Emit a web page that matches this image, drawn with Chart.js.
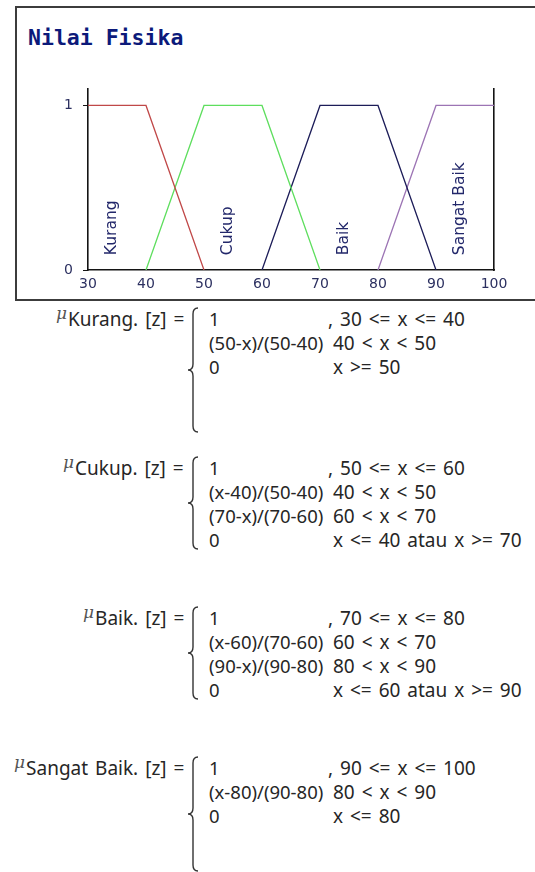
<!DOCTYPE html>
<html>
<head>
<meta charset="utf-8">
<script src="https://cdn.jsdelivr.net/npm/chart.js@4.4.1/dist/chart.umd.min.js"></script>
<style>
  html, body { margin: 0; padding: 0; background: #fff; }
  body { width: 535px; height: 872px; position: relative; overflow: hidden; }
  #box { position: absolute; left: 15px; top: 6px; width: 540px; height: 291px; border: 2px solid #3c3c3c; }
  #title { position: absolute; left: 28px; top: 27px; font: bold 21.5px "DejaVu Sans Mono", monospace; line-height: 21px; color: #0c1a7a; white-space: nowrap; }
  #fisika { position: absolute; left: 0; top: 0; }
  .txt { position: absolute; font-family: "Noto Sans", sans-serif; font-size: 19px; line-height: 24px; color: #262626; white-space: nowrap; }
  .expr { font-size: 18.5px; }
  .cond { word-spacing: 2px; }
  .lbl { word-spacing: 2px; }
  .mu { font-family: "DejaVu Serif", serif; font-style: italic; font-size: 17px; color: #555; position: relative; top: -7px; margin-right: 1px; }
  svg.brace { position: absolute; overflow: visible; }
</style>
</head>
<body>
<div id="box"></div>
<div id="title">Nilai Fisika</div>
<canvas id="fisika" width="535" height="300"></canvas>

<script>
// membership sets for "Nilai Fisika"
const setNames = ['Kurang', 'Cukup', 'Baik', 'Sangat Baik'];
const kurangX = [30, 40, 50];
const kurangY = [1, 1, 0];
const cukupX = [40, 50, 60, 70];
const cukupY = [0, 1, 1, 0];
const baikX = [60, 70, 80, 90];
const baikY = [0, 1, 1, 0];
const sangatX = [80, 90, 100];
const sangatY = [0, 1, 1];
const xTicks = [30, 40, 50, 60, 70, 80, 90, 100];
const yTicks = [0, 1];

const setX = [kurangX, cukupX, baikX, sangatX];
const setY = [kurangY, cukupY, baikY, sangatY];
const lineColors = ['#c04848', '#5ede5e', '#1c1c58', '#9c74b4'];
const axisColor = '#141414';
const tickColor = '#2c3060';

// vertical set names, drawn a little right of where each plateau starts
const setLabels = {
    id: 'setLabels',
    afterDatasetsDraw(chart) {
        const { ctx, scales: { x, y } } = chart;
        ctx.save();
        ctx.font = '15.5px "DejaVu Sans", sans-serif';
        ctx.fillStyle = '#22276a';
        ctx.textAlign = 'left';
        ctx.textBaseline = 'middle';
        setNames.forEach((name, i) => {
            const start = setX[i][setY[i].indexOf(1)];
            ctx.save();
            ctx.translate(x.getPixelForValue(start + 4.2), y.getPixelForValue(0.09));
            ctx.rotate(-Math.PI / 2);
            ctx.fillText(name, 0, 0);
            ctx.restore();
        });
        ctx.restore();
    }
};

new Chart(document.getElementById('fisika'), {
    type: 'line',
    data: {
        datasets: setNames.map((name, i) => ({
            label: name,
            data: setX[i].map((v, j) => ({ x: v, y: setY[i][j] })),
            borderColor: lineColors[i],
            borderWidth: 1.3,
            pointRadius: 0,
            tension: 0,
            fill: false
        }))
    },
    options: {
        responsive: false,
        animation: false,
        layout: { padding: { top: 89, right: 41, left: 0, bottom: 0 } },
        plugins: { legend: { display: false }, tooltip: { enabled: false } },
        scales: {
            x: {
                type: 'linear', min: 30, max: 100,
                afterBuildTicks: s => { s.ticks = xTicks.map(v => ({ value: v })); },
                afterFit: s => { s.height = 30; },
                grid: { display: false, drawTicks: false },
                border: { display: true, color: axisColor, width: 1.6 },
                ticks: { color: tickColor, font: { family: 'DejaVu Sans', size: 14 }, padding: 6, maxRotation: 0 }
            },
            y: {
                min: 0, max: 1.1,
                afterBuildTicks: s => { s.ticks = yTicks.map(v => ({ value: v })); },
                afterFit: s => { s.width = 88; },
                grid: { drawOnChartArea: false, tickLength: 5, color: axisColor },
                border: { display: true, color: axisColor, width: 1.6 },
                ticks: { color: tickColor, font: { family: 'DejaVu Sans', size: 14 }, padding: 10 }
            },
            y2: {
                position: 'right', min: 0, max: 1.1,
                afterFit: s => { s.width = 0; },
                grid: { display: false },
                ticks: { display: false },
                border: { display: true, color: axisColor, width: 1.6 }
            }
        }
    },
    plugins: [setLabels]
});

// piecewise membership rules written out under the chart
const rules = [
    { name: 'Kurang', top: 307, braceH: 126, rows: [
        ['1', ', 30 <= x <= 40'], ['(50-x)/(50-40)', '40 < x < 50'], ['0', 'x >= 50']] },
    { name: 'Cukup', top: 456, braceH: 94, rows: [
        ['1', ', 50 <= x <= 60'], ['(x-40)/(50-40)', '40 < x < 50'], ['(70-x)/(70-60)', '60 < x < 70'], ['0', 'x <= 40 atau x >= 70']] },
    { name: 'Baik', top: 606, braceH: 94, rows: [
        ['1', ', 70 <= x <= 80'], ['(x-60)/(70-60)', '60 < x < 70'], ['(90-x)/(90-80)', '80 < x < 90'], ['0', 'x <= 60 atau x >= 90']] },
    { name: 'Sangat Baik', top: 756, braceH: 116, rows: [
        ['1', ', 90 <= x <= 100'], ['(x-80)/(90-80)', '80 < x < 90'], ['0', 'x <= 80']] }
];

function addText(cls, left, top, html) {
    const d = document.createElement('div');
    d.className = 'txt ' + cls;
    d.style.left = left + 'px';
    d.style.top = top + 'px';
    d.innerHTML = html;
    document.body.appendChild(d);
    return d;
}

function addBrace(left, top, h) {
    const ns = 'http://www.w3.org/2000/svg';
    const svg = document.createElementNS(ns, 'svg');
    svg.setAttribute('class', 'brace');
    svg.setAttribute('width', 16);
    svg.setAttribute('height', h);
    svg.style.left = left + 'px';
    svg.style.top = top + 'px';
    const m = h / 2;
    const p = document.createElementNS(ns, 'path');
    p.setAttribute('d', `M13 1 Q8 1 8 7 L8 ${m - 6} Q8 ${m} 3 ${m} Q8 ${m} 8 ${m + 6} L8 ${h - 7} Q8 ${h - 1} 13 ${h - 1}`);
    p.setAttribute('fill', 'none');
    p.setAttribute('stroke', '#333');
    p.setAttribute('stroke-width', '1.4');
    svg.appendChild(p);
    document.body.appendChild(svg);
}

rules.forEach(r => {
    const lbl = addText('lbl', 0, r.top, '<span class="mu">\u03bc</span>' + r.name + '. [z] =');
    lbl.style.left = (184 - lbl.offsetWidth) + 'px';
    addBrace(185, r.top, r.braceH);
    r.rows.forEach((row, i) => {
        const y = r.top + i * 24;
        addText('expr', 209, y, row[0]);
        addText('cond', row[1][0] === ',' ? 328 : 333, y, row[1]);
    });
});
</script>
</body>
</html>
